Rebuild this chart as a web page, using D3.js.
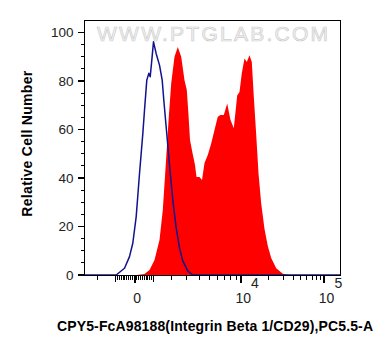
<!DOCTYPE html>
<html><head><meta charset="utf-8">
<script src="https://cdn.jsdelivr.net/npm/d3@7"></script>
<style>body{margin:0;background:#fff}svg{display:block}</style>
</head><body><svg id="c" width="389" height="356"></svg>
<script>
// ---- data (display channels 0..256 across the plotted logicle range) ----
const redChannels = [0,52,60,65,70,75,78.3,81.7,84.3,86.7,90,93.3,96.7,100,102.3,104,105.5,108,110.5,112,115,117.5,120,123.3,126.7,130,133.3,136,139.3,142.7,146,149.3,152.7,155,157.3,160,162.3,165,167.3,169.3,171.7,174,176.7,180,183.3,186.7,191.7,198.3,203.3,256];
const redCounts   = [0,0,0.4,2.1,6.2,14.4,26.8,48.4,65.3,79.0,90.0,94.1,90.0,80.4,76.3,66.0,55.7,50.3,45.4,40.4,40.4,39.2,46.2,49.5,54.3,59.8,65.3,66.0,66.0,70.8,63.9,60.5,74.1,75.5,83.2,89.3,87.9,90.7,87.9,73.5,58,42,29.5,19,12,7,2.8,0.5,0,0];
const blueChannels = [0,31.7,40,45,48.3,51.7,55,58.3,60,62.3,64.3,65.7,67,69,71.7,75,77.7,79.3,81.5,85,88.3,91.7,95,98.3,103.3,108.3,256];
const blueCounts   = [0,0,2.8,7.6,13.1,24.1,41.8,58.2,68.0,80.4,83.2,81.8,87.3,96.2,91.3,86.6,80.4,72.2,61.9,45.4,30.9,19.4,11.1,5.8,1.6,0,0];
const yTickValues = [0,20,40,60,80,100];
const yMinorValues = [5,10,15,25,30,35,45,50,55,65,70,75,85,90,95];
const xLabelValues = [0,10000,100000];
const xLabelBase = ["0","10","10"];
const xLabelExp = ["","4","5"];
const xMediumValues = [-1000,1000];
const xMinorValues = [-2000,-900,-800,-700,-600,-500,-400,-300,-200,-100,100,200,300,400,500,600,700,800,900,2000,3000,4000,5000,6000,7000,8000,9000,20000,30000,40000,50000,60000,70000,80000,90000];
const xTitle = "CPY5-FcA98188(Integrin Beta 1/CD29),PC5.5-A";
const yTitle = "Relative Cell Number";
const watermark = "WWW.PTGLAB.COM";

// ---- logicle transform ----
function makeLogicle(T, W, M){
  const w=W/M, x1=w, x0=2*w, b=M*Math.LN10;
  let lo=1e-9, hi=b;
  for(let i=0;i<200;i++){const d=(lo+hi)/2; const g=2*(Math.log(d)-Math.log(b))+w*(b+d); if(g>0)hi=d; else lo=d;}
  const d=(lo+hi)/2;
  const ca=Math.exp(x0*(b+d)), mfa=Math.exp(b*x1)-ca/Math.exp(d*x1);
  const a=T/((Math.exp(b)-mfa)-ca/Math.exp(d)), c=ca*a, f=-mfa*a;
  const Sp=x=>a*Math.exp(b*x)-c*Math.exp(-d*x)+f;
  const S=x=>x>=x1?Sp(x):-Sp(2*x1-x);
  return v=>{let l=-1,h=1.3;for(let i=0;i<80;i++){const m=(l+h)/2;if(S(m)<v)l=m;else h=m;}return (l+h)/2;};
}
const T=262144, M=4.5, targetRatio=106/83.3;
let wl=0.3, wh=2.1;
for(let i=0;i<60;i++){
  const Wm=(wl+wh)/2; const Lm=makeLogicle(T,Wm,M);
  const r=(Lm(1e4)-Lm(0))/(Lm(1e5)-Lm(1e4));
  if(r>targetRatio) wl=Wm; else wh=Wm;
}
const L=makeLogicle(T,(wl+wh)/2,M);
const span=L(1e5)-L(0);
const dispLo=L(0)-0.2645*span, dispHi=L(1e5)+0.0882*span;

// ---- layout ----
const svg=d3.select("#c");
const mL=84.5, mT=20.5, W=256, H=255;
const g=svg.append("g").attr("transform",`translate(${mL},${mT})`);
const xDisp=d3.scaleLinear().domain([dispLo,dispHi]).range([0,W]);
const xChan=d3.scaleLinear().domain([0,256]).range([0,W]);
const y=d3.scaleLinear().domain([0,105]).range([254.5,0]);
const xv=v=>xDisp(L(v));

// watermark
svg.append("text").attr("x",97).attr("y",40.5).attr("textLength",231).attr("lengthAdjust","spacing")
  .style("font-family","Liberation Sans, Arial, sans-serif").style("font-size","21px")
  .attr("fill","#f4f4f4").attr("stroke","#cccccc").attr("stroke-width",0.7).text(watermark);

// red histogram
const redData=redChannels.map((c,i)=>[c,redCounts[i]]);
g.append("path").datum(redData)
  .attr("d",d3.area().x(d=>xChan(d[0])).y0(y(0)).y1(d=>y(d[1])))
  .attr("fill","#ff0000");
// blue histogram
const blueData=blueChannels.map((c,i)=>[c,blueCounts[i]]);
g.append("path").datum(blueData)
  .attr("d",d3.line().x(d=>xChan(d[0])).y(d=>y(d[1])))
  .attr("fill","none").attr("stroke","#12128e").attr("stroke-width",1.5).attr("stroke-linejoin","round");

// frame
g.append("rect").attr("x",0).attr("y",0).attr("width",W).attr("height",H)
  .attr("fill","none").attr("stroke","#000").attr("stroke-width",1);

// y ticks
const tk=g.append("g").attr("stroke","#000").attr("stroke-width",1).attr("shape-rendering","crispEdges");
yTickValues.forEach(v=>tk.append("line").attr("x1",-7).attr("x2",0).attr("y1",y(v)).attr("y2",y(v)).attr("stroke-width",1.6));
yMinorValues.forEach(v=>tk.append("line").attr("x1",-4).attr("x2",0).attr("y1",y(v)).attr("y2",y(v)));
g.selectAll(".yl").data(yTickValues).enter().append("text")
  .attr("x",-11).attr("y",d=>y(d)).attr("dy","0.35em").attr("text-anchor","end")
  .style("font-family","Liberation Sans, Arial, sans-serif").style("font-size","13.5px").attr("fill","#222").text(d=>d);

// x ticks
xLabelValues.forEach(v=>tk.append("line").attr("x1",xv(v)).attr("x2",xv(v)).attr("y1",H).attr("y2",H+7).attr("stroke-width",2));
xMediumValues.forEach(v=>tk.append("line").attr("x1",xv(v)).attr("x2",xv(v)).attr("y1",H).attr("y2",H+6).attr("stroke-width",1.3));
xMinorValues.forEach(v=>tk.append("line").attr("x1",xv(v)).attr("x2",xv(v)).attr("y1",H).attr("y2",H+4));
xLabelValues.forEach((v,i)=>{
  const t=g.append("text").attr("y",282.5).style("font-family","Liberation Sans, Arial, sans-serif")
    .style("font-size","14px").attr("fill","#222");
  if(xLabelExp[i]===""){ t.attr("x",xv(v)+2.5).attr("text-anchor","middle").text(xLabelBase[i]); }
  else{
    t.attr("x",xv(v)-5).attr("text-anchor","start");
    t.append("tspan").text(xLabelBase[i]);
    t.append("tspan").attr("dy",-15).text(xLabelExp[i]);
  }
});

// titles
svg.append("text").attr("x",215).attr("y",331).attr("text-anchor","middle")
  .attr("textLength",316).attr("lengthAdjust","spacing")
  .style("font-family","Liberation Sans, Arial, sans-serif").style("font-size","14px").style("font-weight","bold")
  .attr("fill","#000").text(xTitle);
svg.append("text").attr("transform","translate(32,143.7) rotate(-90)").attr("text-anchor","middle")
  .attr("textLength",146).attr("lengthAdjust","spacing")
  .style("font-family","Liberation Sans, Arial, sans-serif").style("font-size","14px").style("font-weight","bold")
  .attr("fill","#000").text(yTitle);
</script></body></html>
